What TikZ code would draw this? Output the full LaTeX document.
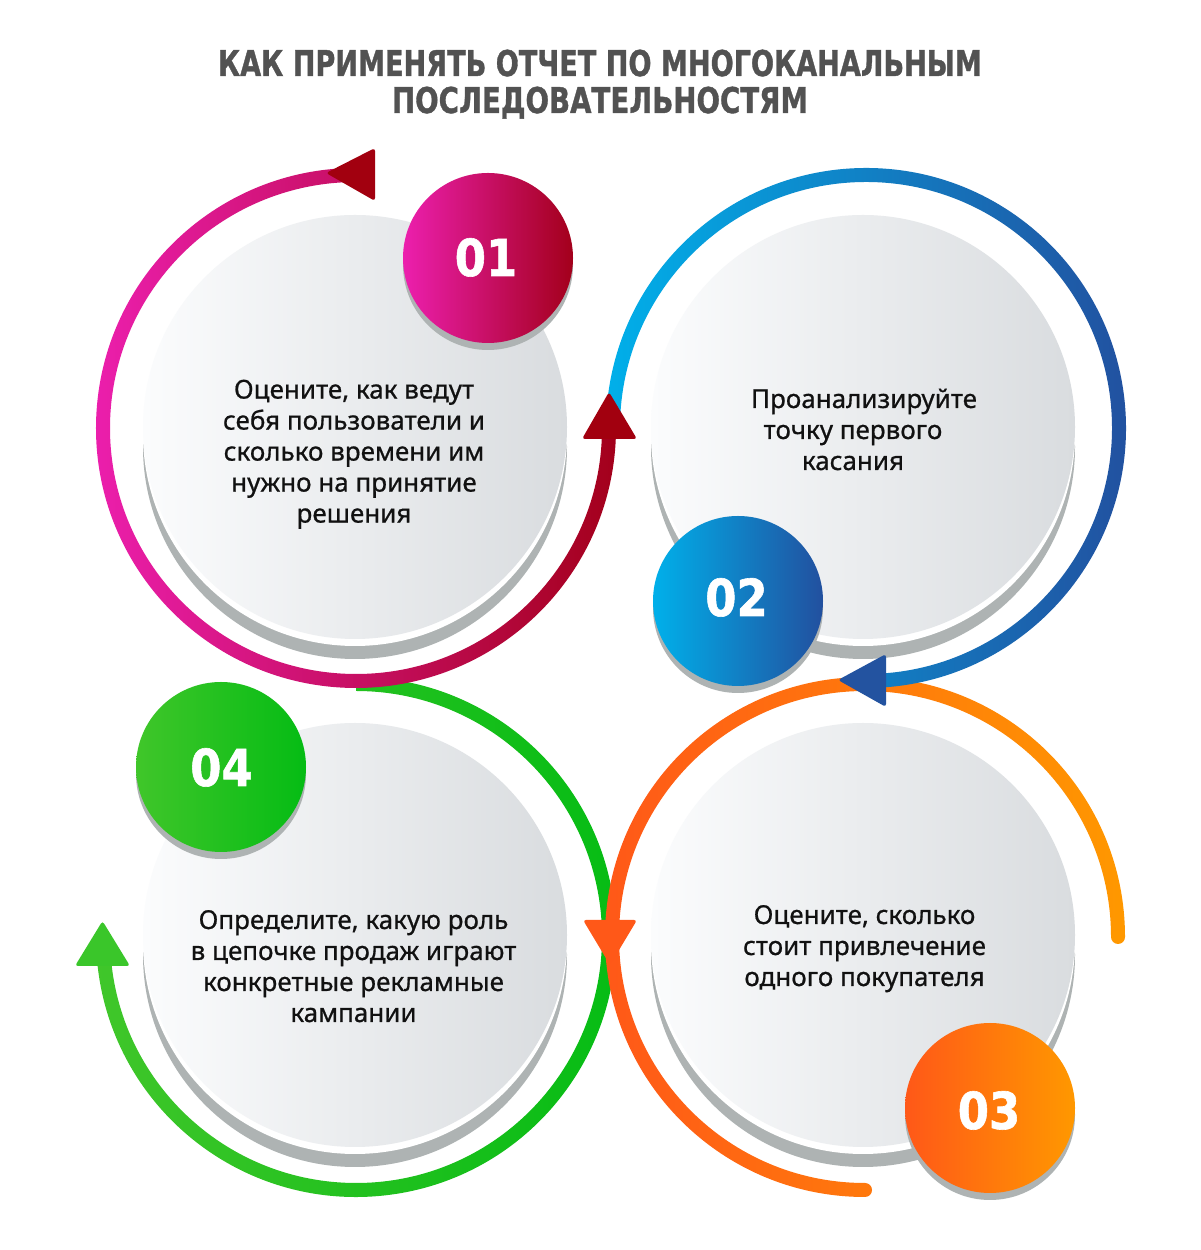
\documentclass[tikz,border=0pt]{standalone}
\usepackage{fontspec}
\setmainfont{Noto Sans}
\newfontfamily\bodyfont{Noto Sans}[FakeBold=0.7]
\newfontfamily\heavyfont{DejaVu Sans}[BoldFeatures={FakeBold=1.2}]
\usetikzlibrary{calc}
\definecolor{pinkL}{HTML}{EC1FAE}
\definecolor{pinkR}{HTML}{A3001B}
\definecolor{redArrow}{HTML}{A2000F}
\definecolor{blueL}{HTML}{00B0EA}
\definecolor{blueR}{HTML}{22509F}
\definecolor{blueArrow}{HTML}{2353A0}
\definecolor{orgL}{HTML}{FF5818}
\definecolor{orgR}{HTML}{FF9800}
\definecolor{grnL}{HTML}{40C62A}
\definecolor{grnR}{HTML}{05BC14}
\definecolor{grnArrow}{HTML}{3AC62A}
\definecolor{discL}{HTML}{FBFCFD}
\definecolor{discR}{HTML}{D9DCDF}
\definecolor{shadowgray}{HTML}{AEB3B3}
\definecolor{titlegray}{HTML}{525252}
\definecolor{bodyblack}{HTML}{111111}
\tikzset{
  body/.style={font=\bodyfont\fontsize{26}{31}\selectfont, text=bodyblack, anchor=base, inner sep=0pt},
  numtext/.style={font=\heavyfont\bfseries\fontsize{51}{51}\selectfont, text=white, anchor=base, inner sep=0pt},
  titletext/.style={text=titlegray, anchor=base, inner sep=0pt},
  arrowtri/.style={rounded corners=3pt},
}
\newcommand\mydisc[1]{%
  \fill[shadowgray] ($(#1)+(0,-20)$) circle[radius=212];
  \fill[white] ($(#1)+(0,-7)$) circle[radius=212];
  \shade[left color=discL,right color=discR] (#1) circle[radius=212];
}
\newcommand\mybadge[3]{%
  \fill[shadowgray] ($(#1)+(0,-7)$) circle[radius=85];
  \shade[left color=#2,right color=#3] (#1) circle[radius=85];
}
\newcommand\myring[5]{%
  \shade[left color=#4,right color=#5] ($(#1)+(#2:260)$) arc[start angle=#2,end angle=#3,radius=260]
    -- ($(#1)+(#3:246)$) arc[start angle=#3,end angle=#2,radius=246] -- cycle;
}
\newsavebox\tboxA
\newsavebox\tboxB
\begin{document}
\sbox\tboxA{\color{titlegray}\heavyfont\bfseries\fontsize{35.5}{38}\selectfont КАК ПРИМЕНЯТЬ ОТЧЕТ ПО МНОГОКАНАЛЬНЫМ}%
\sbox\tboxB{\color{titlegray}\heavyfont\bfseries\fontsize{35.5}{38}\selectfont ПОСЛЕДОВАТЕЛЬНОСТЯМ}%
\pgfmathsetmacro\ratioA{764/\wd\tboxA}%
\pgfmathsetmacro\ratioB{416/\wd\tboxB}%
\begin{tikzpicture}[x=1pt,y=1pt]
\useasboundingbox (0,0) rectangle (1200,1250);
\fill[white] (0,0) rectangle (1200,1250);
% ring centres
\coordinate (c1) at (356,822);
\coordinate (c2) at (866,822);
\coordinate (c3) at (865,313);
\coordinate (c4) at (356,313);
% disc centres
\coordinate (d1) at (355,823);
\coordinate (d2) at (863,823);
\coordinate (d3) at (863,315);
\coordinate (d4) at (355,315);
\mydisc{d1}
\mydisc{d2}
\mydisc{d3}
\mydisc{d4}
% ring 4 (green)
\myring{c4}{-175}{90}{grnL}{grnR}
\fill[arrowtri, grnArrow] (75,284) -- (102.5,329) -- (130,284) -- cycle;
% ring 3 (orange)
\myring{c3}{0}{270}{orgL}{orgR}
\fill[orgR] ($(c3)+(0:253)$) circle[radius=7];
\fill[orgL!50!orgR] ($(c3)+(270:253)$) circle[radius=7];
\fill[arrowtri, orgL] (583,330) -- (610,285) -- (637,330) -- cycle;
% ring 2 (blue)
\myring{c2}{-87}{181}{blueL}{blueR}
\fill[arrowtri, blueArrow] (886,596) -- (838,570) -- (886,543) -- cycle;
% ring 1 (pink)
\myring{c1}{87}{359}{pinkL}{pinkR}
\fill[arrowtri, redArrow] (375,1102) -- (326,1077) -- (375,1049) -- cycle;
\fill[arrowtri, redArrow] (582,811) -- (609,858) -- (637,811) -- cycle;
% badges
\coordinate (b1) at (488,992);
\coordinate (b2) at (738,649);
\coordinate (b3) at (990,142);
\coordinate (b4) at (221,483);
\mybadge{b1}{pinkL}{pinkR}
\mybadge{b2}{blueL}{blueR}
\mybadge{b3}{orgL}{orgR}
\mybadge{b4}{grnL}{grnR}
\node[numtext] (n1) at (486,974) {\scalebox{0.88}[1]{01}};
\node[numtext] (n2) at (736.5,634) {\scalebox{0.88}[1]{02}};
\node[numtext] (n3) at (989,121) {\scalebox{0.88}[1]{03}};
\node[numtext] (n4) at (221.5,464) {\scalebox{0.88}[1]{04}};
% title
\node[titletext] (title1) at (600,1174) {\scalebox{\ratioA}[1]{\usebox\tboxA}};
\node[titletext] (title2) at (600,1137) {\scalebox{\ratioB}[1]{\usebox\tboxB}};
% texts
\node[body] (t1a) at (354,851.4) {Оцените, как ведут};
\node[body] (t1b) at (354,820.4) {себя пользователи и};
\node[body] (t1c) at (354,789.4) {сколько времени им};
\node[body] (t1d) at (354,758.4) {нужно на принятие};
\node[body] (t1e) at (354,727.4) {решения};
\node[body] (t2a) at (864,842) {Проанализируйте};
\node[body] (t2b) at (853,811) {точку первого};
\node[body] (t2c) at (853,780) {касания};
\node[body] (t3a) at (864.5,326) {Оцените, сколько};
\node[body] (t3b) at (864.5,295) {стоит привлечение};
\node[body] (t3c) at (864.5,264) {одного покупателя};
\node[body] (t4a) at (353.5,321) {Определите, какую роль};
\node[body] (t4b) at (353.5,290) {в цепочке продаж играют};
\node[body] (t4c) at (353.5,259) {конкретные рекламные};
\node[body] (t4d) at (353.5,228) {кампании};
\end{tikzpicture}
\end{document}
